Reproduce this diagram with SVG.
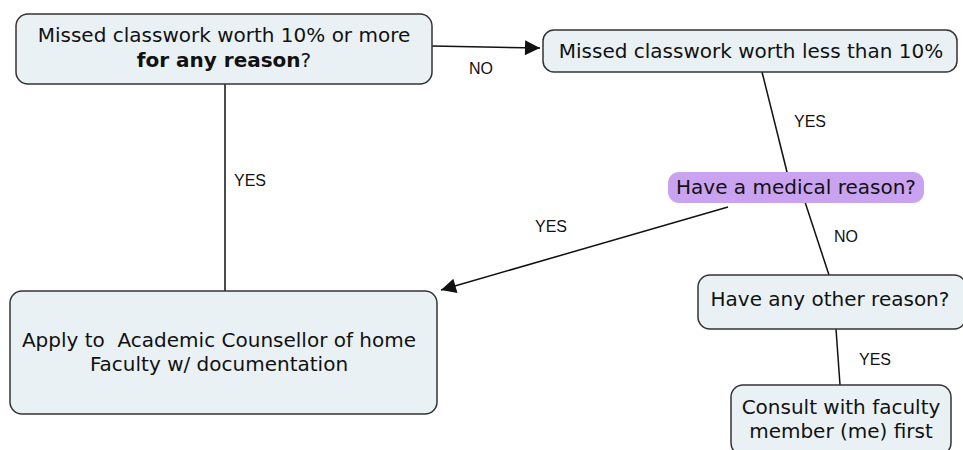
<svg xmlns="http://www.w3.org/2000/svg" width="963" height="450" viewBox="0 0 963 450">
<style>
.node{fill:#eaf1f4;stroke:#333;stroke-width:1.5}
.t{font-family:"DejaVu Sans","Liberation Sans",sans-serif;font-size:20px;fill:#111;text-anchor:middle}
.lbl{font-family:"Liberation Sans",Arial,sans-serif;font-size:16px;fill:#111;text-anchor:middle}
.c{stroke:#111;stroke-width:1.5;fill:none}
</style>
<defs>
<marker id="ah" viewBox="0 0 10 10" refX="10" refY="5" markerWidth="18" markerHeight="15" markerUnits="userSpaceOnUse" orient="auto">
<path d="M0,0 L10,5 L0,10 z" fill="#111"/>
</marker>
</defs>
<rect width="963" height="450" fill="#fff"/>
<g id="connectors">
<line class="c" x1="432" y1="46" x2="540" y2="48" marker-end="url(#ah)"/>
<text class="lbl" x="481" y="74">NO</text>
<line class="c" x1="225" y1="84" x2="225" y2="291"/>
<text class="lbl" x="250" y="186">YES</text>
<line class="c" x1="762" y1="72" x2="787" y2="172"/>
<text class="lbl" x="810" y="127">YES</text>
<line class="c" x1="728" y1="207" x2="441" y2="290" marker-end="url(#ah)"/>
<text class="lbl" x="551" y="232">YES</text>
<line class="c" x1="805" y1="202" x2="829" y2="275"/>
<text class="lbl" x="846" y="242">NO</text>
<line class="c" x1="836" y1="329" x2="840" y2="385"/>
<text class="lbl" x="875" y="365">YES</text>
</g>
<g id="n1">
<rect class="node" x="16" y="14" width="416" height="70" rx="12"/>
<text class="t" x="224" y="42">Missed classwork worth 10% or more</text>
<text class="t" x="224" y="67"><tspan font-weight="bold">for any reason</tspan>?</text>
</g>
<g id="n2">
<rect class="node" x="543" y="30" width="414" height="42" rx="11"/>
<text class="t" x="751" y="58">Missed classwork worth less than 10%</text>
</g>
<g id="n3">
<rect x="668" y="172" width="256" height="31" rx="11" fill="#c9a3f0"/>
<text class="t" x="796" y="194">Have a medical reason?</text>
</g>
<g id="n4">
<rect class="node" x="698" y="275" width="268" height="54" rx="12"/>
<text class="t" x="830" y="306">Have any other reason?</text>
</g>
<g id="n5">
<rect class="node" x="731" y="385" width="220" height="70" rx="12"/>
<text class="t" x="841" y="414">Consult with faculty</text>
<text class="t" x="841" y="438">member (me) first</text>
</g>
<g id="n6">
<rect class="node" x="10" y="291" width="427" height="123" rx="12"/>
<text class="t" x="219" y="347" xml:space="preserve">Apply to  Academic Counsellor of home</text>
<text class="t" x="219" y="371">Faculty w/ documentation</text>
</g>
</svg>
